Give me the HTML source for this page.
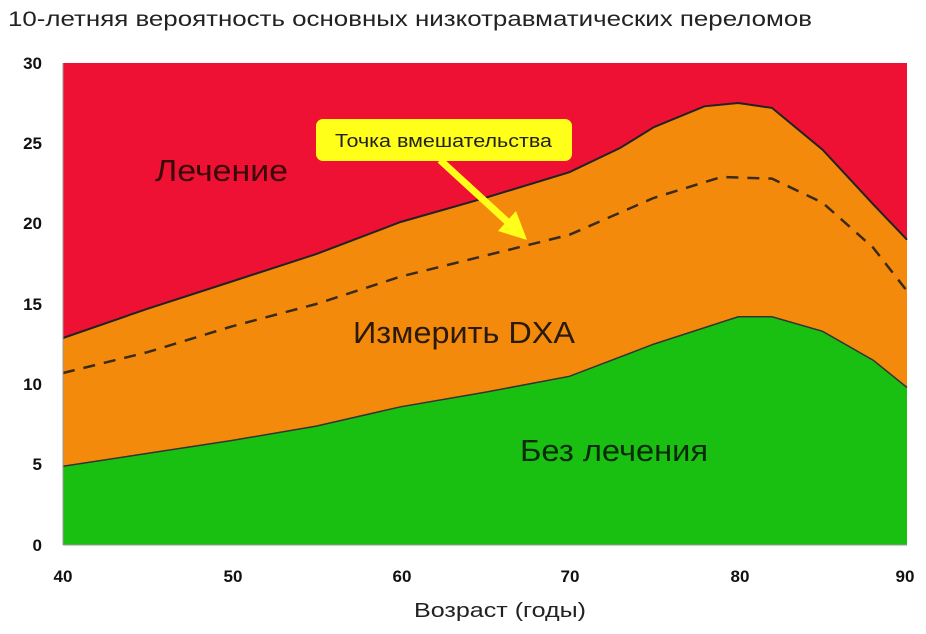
<!DOCTYPE html><html><head><meta charset="utf-8"><style>body{margin:0;background:#fff}svg{display:block}</style></head><body>
<svg width="926" height="634" xmlns="http://www.w3.org/2000/svg" font-family="Liberation Sans, DejaVu Sans, sans-serif">
<text x="8" y="26" font-size="21" fill="#222" textLength="804" lengthAdjust="spacingAndGlyphs">10-летняя вероятность основных низкотравматических переломов</text>
<rect x="63" y="63" width="844" height="482" fill="#ee1133"/>
<polygon fill="#f48a0c" points="63,338 147.4,308.8 231.8,281.5 316.2,254.1 400.6,222 485,197.9 569.4,172.2 620,148 653.8,127.2 704.4,106.3 738.2,103 772,107.9 822.6,149.7 873.2,204.3 907,239.7 907,545 63,545"/>
<polyline fill="none" stroke="#222" stroke-width="2" points="63,338 147.4,308.8 231.8,281.5 316.2,254.1 400.6,222 485,197.9 569.4,172.2 620,148 653.8,127.2 704.4,106.3 738.2,103 772,107.9 822.6,149.7 873.2,204.3 907,239.7"/>
<polygon fill="#19c012" points="63,466.3 147.4,453.4 231.8,440.5 316.2,426.1 400.6,406.8 485,392.3 569.4,376.3 653.8,344.1 738.2,316.8 772,316.8 822.6,331.3 873.2,360.2 907,387.5 907,545 63,545"/>
<polyline fill="none" stroke="#333" stroke-width="1.5" points="63,466.3 147.4,453.4 231.8,440.5 316.2,426.1 400.6,406.8 485,392.3 569.4,376.3 653.8,344.1 738.2,316.8 772,316.8 822.6,331.3 873.2,360.2 907,387.5"/>
<polyline fill="none" stroke="#3a2a1a" stroke-width="2.5" stroke-dasharray="12,9" points="63,373 147.4,352.2 231.8,326.4 316.2,304 400.6,276.6 485,255.7 569.4,234.8 653.8,197.9 721.3,177 772,178.6 822.6,202.7 873.2,247.7 907,291"/>
<line x1="63" y1="63" x2="63" y2="545" stroke="#999"/>
<line x1="63" y1="545" x2="907" y2="545" stroke="#999"/>
<g font-size="17" font-weight="bold" fill="#111" text-anchor="end">
<text x="42" y="551">0</text><text x="42" y="470">5</text><text x="42" y="390">10</text><text x="42" y="310">15</text><text x="42" y="229">20</text><text x="42" y="149">25</text><text x="42" y="69">30</text></g>
<g font-size="17" font-weight="bold" fill="#111" text-anchor="middle">
<text x="63" y="582">40</text><text x="233" y="582">50</text><text x="402" y="582">60</text><text x="570" y="582">70</text><text x="740" y="582">80</text><text x="905" y="582">90</text></g>
<text x="414" y="617" font-size="20" fill="#222" textLength="172" lengthAdjust="spacingAndGlyphs">Возраст (годы)</text>
<text x="155" y="181" font-size="31" fill="#3a0a0a" textLength="133" lengthAdjust="spacingAndGlyphs">Лечение</text>
<text x="353" y="343" font-size="31" fill="#2a1a0a" textLength="222" lengthAdjust="spacingAndGlyphs">Измерить DXA</text>
<text x="520" y="461" font-size="31" fill="#0a2a0a" textLength="188" lengthAdjust="spacingAndGlyphs">Без лечения</text>
<rect x="316" y="119" width="256" height="42" rx="7" fill="#ffff1a"/>
<text x="335" y="147" font-size="18" fill="#222" textLength="217" lengthAdjust="spacingAndGlyphs">Точка вмешательства</text>
<line x1="440" y1="160" x2="512" y2="226" stroke="#ffff1a" stroke-width="7"/>
<polygon points="527,240 498,231 516,211" fill="#ffff1a"/>
</svg></body></html>
